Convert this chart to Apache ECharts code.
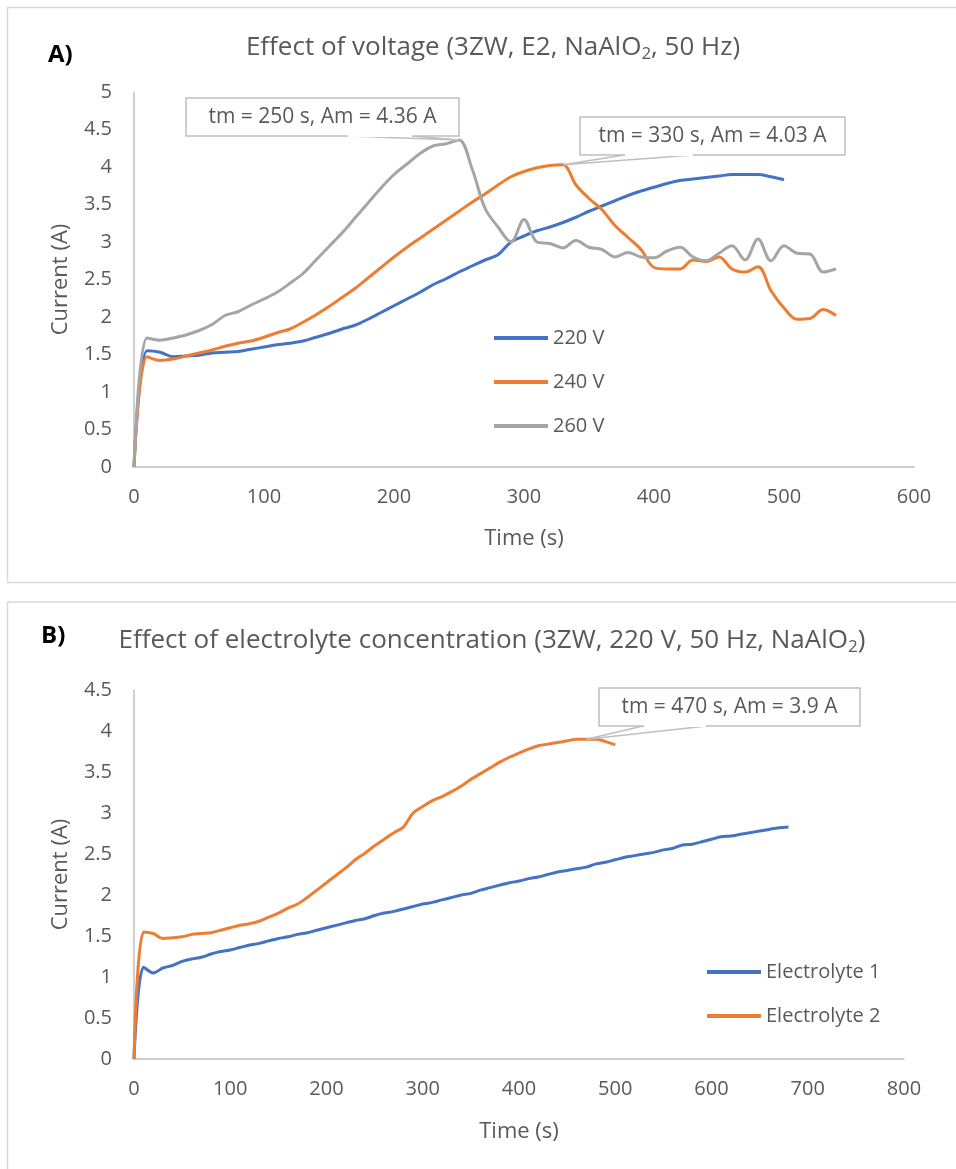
<!DOCTYPE html>
<html>
<head>
<meta charset="utf-8">
<script src="https://cdn.jsdelivr.net/npm/echarts@6/dist/echarts.min.js"></script>
<style>
  html, body { margin: 0; padding: 0; background: #fff; }
  #chart { width: 956px; height: 1169px; }
</style>
</head>
<body>
<div id="chart"></div>
<script>
// Panel A: current vs time at three voltages
const timeA220 = [0,10,20,30,40,50,60,70,80,90,100,110,120,130,140,150,160,170,180,190,200,210,220,230,240,250,260,270,280,290,300,310,320,330,340,350,360,370,380,390,400,410,420,430,440,450,460,470,480,490,500];
const current220V = [0,1.55,1.53,1.47,1.48,1.49,1.52,1.53,1.54,1.57,1.6,1.63,1.65,1.68,1.73,1.78,1.84,1.89,1.97,2.06,2.15,2.24,2.33,2.43,2.51,2.6,2.68,2.76,2.83,3.0,3.08,3.15,3.2,3.26,3.33,3.41,3.48,3.55,3.62,3.68,3.73,3.78,3.82,3.84,3.86,3.88,3.9,3.9,3.9,3.87,3.83];

const timeA240 = [0,10,20,30,40,50,60,70,80,90,100,110,120,130,140,150,160,170,180,190,200,210,220,230,240,250,260,270,280,290,300,310,320,330,340,350,360,370,380,390,400,410,420,430,440,450,460,470,480,490,500,510,520,530,540];
const current240V = [0,1.47,1.42,1.44,1.48,1.52,1.56,1.61,1.65,1.68,1.73,1.79,1.84,1.93,2.03,2.14,2.26,2.38,2.52,2.66,2.8,2.93,3.05,3.17,3.29,3.41,3.53,3.64,3.76,3.87,3.94,3.99,4.02,4.03,3.76,3.58,3.43,3.22,3.06,2.9,2.66,2.64,2.64,2.76,2.74,2.8,2.64,2.6,2.67,2.35,2.12,1.97,1.98,2.1,2.02];

const timeA260 = [0,10,20,30,40,50,60,70,80,90,100,110,120,130,140,150,160,170,180,190,200,210,220,230,240,250,260,270,280,290,300,310,320,330,340,350,360,370,380,390,400,410,420,430,440,450,460,470,480,490,500,510,520,530,540];
const current260V = [0,1.72,1.69,1.72,1.76,1.82,1.9,2.02,2.07,2.16,2.24,2.33,2.45,2.58,2.76,2.94,3.12,3.32,3.52,3.72,3.9,4.04,4.18,4.28,4.31,4.36,3.98,3.45,3.2,3.0,3.3,3.0,2.98,2.92,3.02,2.93,2.9,2.8,2.86,2.8,2.79,2.88,2.93,2.8,2.75,2.85,2.95,2.76,3.04,2.75,2.95,2.85,2.84,2.6,2.64];

// Panel B: current vs time for two electrolytes
const timeE1 = [0,10,20,30,40,50,60,70,80,90,100,110,120,130,140,150,160,170,180,190,200,210,220,230,240,250,260,270,280,290,300,310,320,330,340,350,360,370,380,390,400,410,420,430,440,450,460,470,480,490,500,510,520,530,540,550,560,570,580,590,600,610,620,630,640,650,660,670,680];
const currentE1 = [0,1.12,1.05,1.11,1.14,1.19,1.22,1.24,1.28,1.31,1.33,1.36,1.39,1.41,1.44,1.47,1.49,1.52,1.54,1.57,1.6,1.63,1.66,1.69,1.71,1.75,1.78,1.8,1.83,1.86,1.89,1.91,1.94,1.97,2.0,2.02,2.06,2.09,2.12,2.15,2.17,2.2,2.22,2.25,2.28,2.3,2.32,2.34,2.38,2.4,2.43,2.46,2.48,2.5,2.52,2.55,2.57,2.61,2.62,2.65,2.68,2.71,2.72,2.74,2.76,2.78,2.8,2.82,2.83];
const timeE2 = timeA220;
const currentE2 = current220V;

// Peak annotations: [time (s), current (A)]
const peak260V = [250, 4.36];
const peak240V = [330, 4.03];
const peakE2 = [470, 3.9];

const yTicksA = { min: 0, max: 5, interval: 0.5 };
const xTicksA = { min: 0, max: 600, interval: 100 };
const yTicksB = { min: 0, max: 4.5, interval: 0.5 };
const xTicksB = { min: 0, max: 800, interval: 100 };

const FONT = '"Open Sans", "Noto Sans", sans-serif';
const TEXT = '#595959';
const AXIS = '#bfbfbf';
const BLUE = '#4472C4', ORANGE = '#ED7D31', GRAY = '#A5A5A5';

const zip = (xs, ys) => xs.map((x, i) => [x, ys[i]]);

function axisBase(extra) {
  return Object.assign({
    type: 'value',
    splitLine: { show: false },
    axisTick: { show: false },
    axisLine: { show: true, lineStyle: { color: AXIS, width: 1.5 } },
    axisLabel: { color: TEXT, fontFamily: FONT, fontSize: 20 },
    nameLocation: 'middle',
    nameTextStyle: { color: TEXT, fontFamily: FONT, fontSize: 22 }
  }, extra);
}

function lineSeries(name, xIdx, data, color) {
  return {
    name, type: 'line', xAxisIndex: xIdx, yAxisIndex: xIdx,
    data, smooth: 0.35, symbol: 'none',
    lineStyle: { color, width: 3 }, itemStyle: { color },
    z: 3
  };
}

const chart = echarts.init(document.getElementById('chart'), null, { renderer: 'canvas' });

const titleRich = {
  sub: { fontSize: 17, color: TEXT, fontFamily: FONT, padding: [13, 0, 0, 0] }
};

chart.setOption({
  backgroundColor: '#fff',
  animation: false,
  title: [
    {
      text: 'Effect of voltage (3ZW, E2, NaAlO{sub|2}, 50 Hz)',
      left: 488, top: 28, textAlign: 'center',
      textStyle: { color: TEXT, fontFamily: FONT, fontSize: 26, fontWeight: 'normal', rich: titleRich }
    },
    {
      text: 'Effect of electrolyte concentration (3ZW, 220 V, 50 Hz, NaAlO{sub|2})',
      left: 487, top: 621, textAlign: 'center',
      textStyle: { color: TEXT, fontFamily: FONT, fontSize: 26, fontWeight: 'normal', rich: titleRich }
    }
  ],
  grid: [
    { left: 134, top: 92, width: 780, height: 375 },
    { left: 134, top: 690, width: 770, height: 369 }
  ],
  xAxis: [
    axisBase(Object.assign({ gridIndex: 0, name: 'Time (s)', nameGap: 61,
      axisLabel: { color: TEXT, fontFamily: FONT, fontSize: 20, margin: 20 } }, xTicksA)),
    axisBase(Object.assign({ gridIndex: 1, name: 'Time (s)', nameGap: 62,
      axisLabel: { color: TEXT, fontFamily: FONT, fontSize: 20, margin: 20 } }, xTicksB))
  ],
  yAxis: [
    axisBase(Object.assign({ gridIndex: 0, name: 'Current (A)', nameGap: 62,
      axisLabel: { color: TEXT, fontFamily: FONT, fontSize: 20, margin: 22 } }, yTicksA)),
    axisBase(Object.assign({ gridIndex: 1, name: 'Current (A)', nameGap: 62,
      axisLabel: { color: TEXT, fontFamily: FONT, fontSize: 20, margin: 22 } }, yTicksB))
  ],
  legend: [
    {
      data: ['220 V', '240 V', '260 V'],
      orient: 'vertical', left: 489, top: 321,
      icon: 'rect', itemWidth: 54, itemHeight: 4, itemGap: 20,
      textStyle: { color: TEXT, fontFamily: FONT, fontSize: 20, lineHeight: 24 }
    },
    {
      data: ['Electrolyte 1', 'Electrolyte 2'],
      orient: 'vertical', left: 702, top: 955,
      icon: 'rect', itemWidth: 54, itemHeight: 4, itemGap: 20,
      textStyle: { color: TEXT, fontFamily: FONT, fontSize: 20, lineHeight: 24 }
    }
  ],
  series: [
    lineSeries('220 V', 0, zip(timeA220, current220V), BLUE),
    lineSeries('240 V', 0, zip(timeA240, current240V), ORANGE),
    lineSeries('260 V', 0, zip(timeA260, current260V), GRAY),
    lineSeries('Electrolyte 1', 1, zip(timeE1, currentE1), BLUE),
    lineSeries('Electrolyte 2', 1, zip(timeE2, currentE2), ORANGE)
  ]
});

// Callout boxes pointing at the peak of each curve
function callout(gridIdx, peak, box, base, text) {
  const tip = chart.convertToPixel({ xAxisIndex: gridIdx, yAxisIndex: gridIdx }, peak);
  const bottom = box.y + box.h;
  return [
    {
      type: 'polygon', z: 10,
      shape: { points: [[base[0], bottom], tip, [base[1], bottom]] },
      style: { fill: '#fff', stroke: AXIS, lineWidth: 1.5 }
    },
    {
      type: 'rect', z: 11,
      shape: { x: box.x, y: box.y, width: box.w, height: box.h },
      style: { fill: '#fff', stroke: AXIS, lineWidth: 1.5 }
    },
    {
      type: 'line', z: 12,
      shape: { x1: base[0] + 1, y1: bottom, x2: base[1] - 1, y2: bottom },
      style: { stroke: '#fff', lineWidth: 2 }
    },
    {
      type: 'text', z: 13,
      x: box.x + box.w / 2, y: box.y + box.h / 2,
      style: { text, fill: TEXT, font: '21px ' + FONT, align: 'center', verticalAlign: 'middle' }
    }
  ];
}

const fmt = (p) => 'tm = ' + p[0] + ' s, Am = ' + p[1] + ' A';

chart.setOption({
  graphic: [
    { type: 'rect', z: -1, silent: true, shape: { x: 7.5, y: 7.5, width: 960, height: 575 },
      style: { fill: 'none', stroke: '#d9d9d9', lineWidth: 1.5 } },
    { type: 'rect', z: -1, silent: true, shape: { x: 7.5, y: 602, width: 960, height: 600 },
      style: { fill: 'none', stroke: '#d9d9d9', lineWidth: 1.5 } },
    { type: 'text', x: 48, y: 55, style: { text: 'A)', fill: '#000', font: 'bold 24px ' + FONT, verticalAlign: 'middle' } },
    { type: 'text', x: 41, y: 636, style: { text: 'B)', fill: '#000', font: 'bold 24px ' + FONT, verticalAlign: 'middle' } }
  ]
    .concat(callout(0, peak260V, { x: 186, y: 98, w: 273, h: 38 }, [347, 413], fmt(peak260V)))
    .concat(callout(0, peak240V, { x: 580, y: 117, w: 265, h: 38 }, [624, 694], fmt(peak240V)))
    .concat(callout(1, peakE2, { x: 599, y: 688, w: 261, h: 38 }, [643, 707], fmt(peakE2)))
});
</script>
</body>
</html>
